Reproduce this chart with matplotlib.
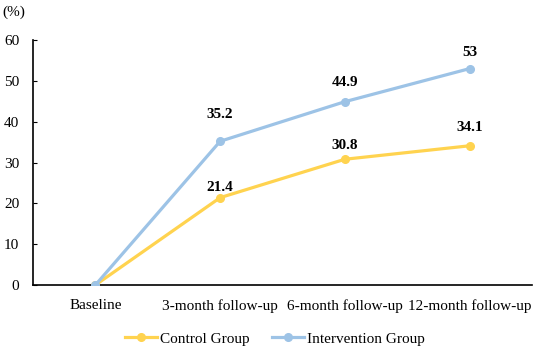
import matplotlib
matplotlib.use("Agg")
import matplotlib.pyplot as plt

categories = ["Baseline", "3-month follow-up", "6-month follow-up", "12-month follow-up"]
control = [0, 21.4, 30.8, 34.1]
intervention = [0, 35.2, 44.9, 53]
control_labels = ["", "21.4", "30.8", "34.1"]
intervention_labels = ["", "35.2", "44.9", "53"]
yticks = [0, 10, 20, 30, 40, 50, 60]

plt.rcParams['font.family'] = ['Liberation Serif', 'DejaVu Serif']
fig = plt.figure(figsize=(5.36, 3.48), dpi=100)
ax = fig.add_axes([0.0616, 0.181, 0.931, 0.704])

c_yellow = "#FFD34F"
c_blue = "#9DC3E6"
x = list(range(len(categories)))
ax.plot(x, control, color=c_yellow, lw=2.3, marker='o', ms=5.5, zorder=3, label="Control Group")
ax.plot(x, intervention, color=c_blue, lw=2.3, marker='o', ms=5.5, zorder=3, label="Intervention Group")

c_off = [0, 7, 10, 13]
i_off = [0, 19, 14, 11.5]
for xi, v, t, o in zip(x, control, control_labels, c_off):
    if t:
        ax.annotate(t, (xi, v), xytext=(0, o), textcoords='offset points', ha='center', va='center',
                    fontsize=11, fontweight='bold')
for xi, v, t, o in zip(x, intervention, intervention_labels, i_off):
    if t:
        ax.annotate(t, (xi, v), xytext=(0, o), textcoords='offset points', ha='center', va='center',
                    fontsize=11, fontweight='bold')

ax.set_xlim(-0.5, 3.5)
ax.set_ylim(0, 60)
ax.set_yticks(yticks)
ax.set_xticks(x)
ax.set_xticklabels(categories, fontsize=11)
ax.tick_params(axis='y', direction='in', length=3, labelsize=11, pad=10)
ax.tick_params(axis='x', length=0, pad=10)
for s in ['top', 'right']:
    ax.spines[s].set_visible(False)
ax.spines['left'].set_linewidth(1.2)
ax.spines['bottom'].set_linewidth(1.2)

fig.text(0.004, 0.965, "(%)", fontsize=11, va='center', ha='left')

fig.legend(handles=ax.get_lines(), loc='center', bbox_to_anchor=(0.513, 0.026), ncol=2, frameon=False,
           fontsize=11, handlelength=2.1, columnspacing=1.45, handletextpad=0.2)

fig.savefig("out.png", dpi=100)
